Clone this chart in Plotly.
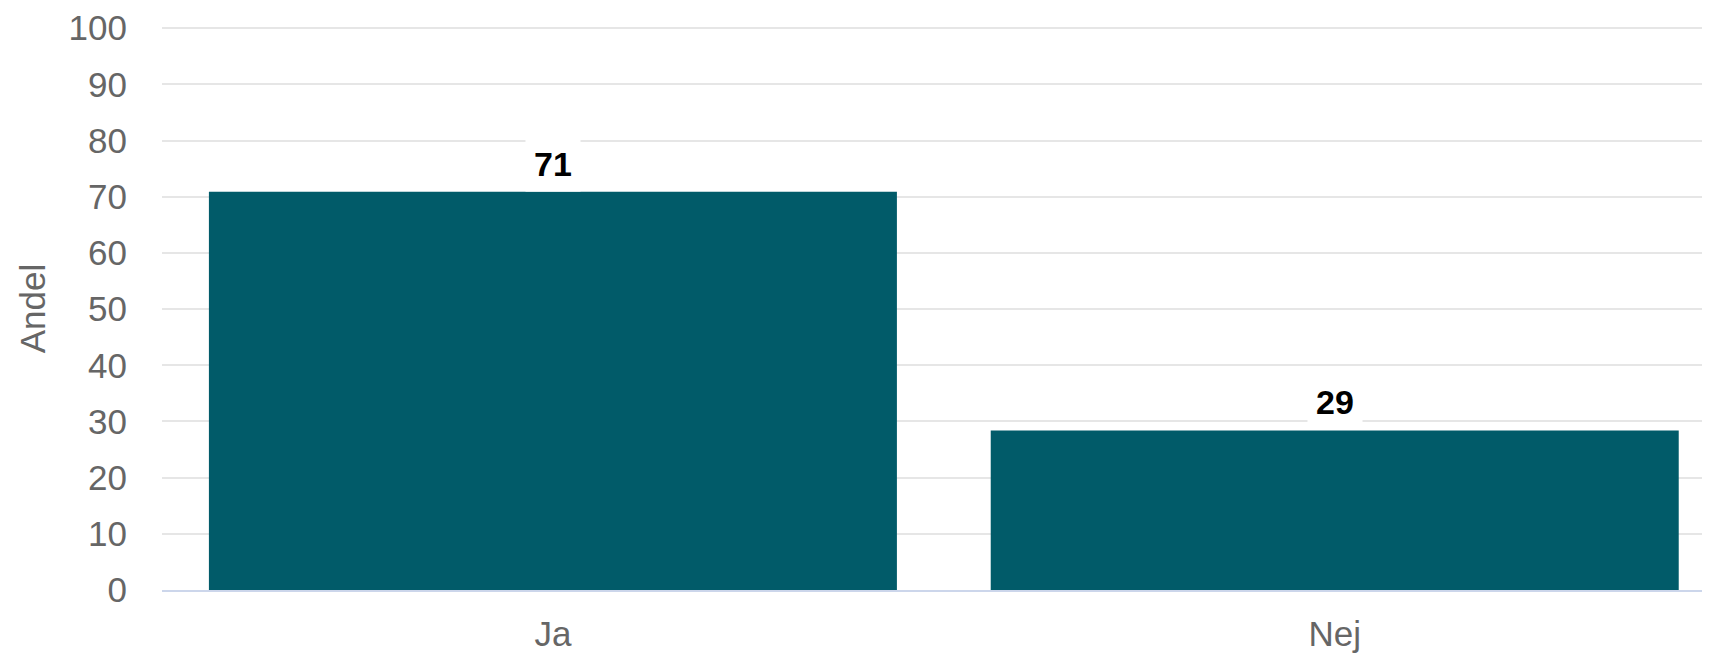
import plotly.graph_objects as go

categories = ["Ja", "Nej"]
values = [70.9, 28.4]
labels = ["71", "29"]
y_ticks = [0, 10, 20, 30, 40, 50, 60, 70, 80, 90, 100]

BAR = "#015B69"
FONT = "Liberation Sans, Arial, sans-serif"

fig = go.Figure()
fig.add_trace(go.Bar(x=categories, y=values, marker=dict(color=BAR, line=dict(width=0)),
                     hoverinfo="skip"))

for c, v, t in zip(categories, values, labels):
    fig.add_annotation(x=c, y=v, xref="x", yref="y", text="<b>%s</b>" % t,
                       showarrow=False, yanchor="bottom", xanchor="center",
                       bgcolor="white", borderpad=8,
                       font=dict(family=FONT, size=34, color="#000000"))

fig.update_layout(
    width=1702, height=645,
    margin=dict(l=154, r=0, t=14, b=58),
    plot_bgcolor="white", paper_bgcolor="white",
    bargap=0.12, showlegend=False,
    font=dict(family=FONT, size=35, color="#666666"),
)
fig.update_xaxes(range=[-0.5, 1.48], showgrid=False, showline=True, linecolor="#ccd6eb",
                 linewidth=2, ticks="", ticklabelstandoff=12,
                 tickfont=dict(family=FONT, size=35, color="#666666"))
fig.update_yaxes(range=[0, 100.2], tickvals=y_ticks, showgrid=True, gridcolor="#e6e6e6",
                 gridwidth=2, zeroline=False, showline=False, ticks="",
                 ticklabelstandoff=34, ticklabeloverflow="allow",
                 tickfont=dict(family=FONT, size=35, color="#666666"),
                 title=dict(text="Andel", standoff=12,
                            font=dict(family=FONT, size=35, color="#666666")))

fig.write_html("out.html")
